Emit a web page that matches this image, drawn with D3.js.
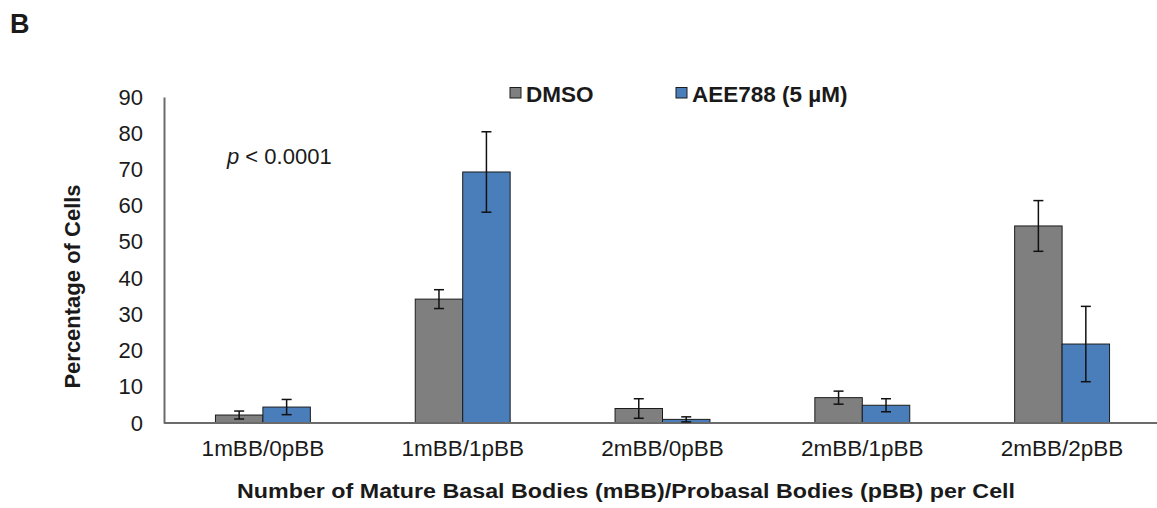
<!DOCTYPE html>
<html>
<head>
<meta charset="utf-8">
<script src="https://cdn.jsdelivr.net/npm/d3@7"></script>
<style>
  html, body { margin: 0; padding: 0; background: #fff; }
  svg { display: block; }
  text { font-family: "Liberation Sans", Arial, sans-serif; fill: #1a1a1a; }
</style>
</head>
<body>
<svg id="chart" width="1157" height="508"></svg>
<script>
const categories = ["1mBB/0pBB", "1mBB/1pBB", "2mBB/0pBB", "2mBB/1pBB", "2mBB/2pBB"];
const seriesNames = ["DMSO", "AEE788 (5 µM)"];
const dmsoValues = [2.2, 34.2, 4.0, 7.0, 54.4];
const dmsoErrors = [1.1, 2.6, 2.7, 1.8, 7.0];
const aeeValues = [4.4, 69.3, 1.0, 4.9, 21.8];
const aeeErrors = [2.1, 11.1, 0.7, 1.8, 10.4];
const yTicks = [0, 10, 20, 30, 40, 50, 60, 70, 80, 90];
const colors = ["#7f7f7f", "#4a7ebb"];

const svg = d3.select("#chart");

const y = d3.scaleLinear().domain([0, 90]).range([423, 97]);
const x = d3.scaleBand().domain(categories).range([163, 1162])
  .paddingInner(0.525).paddingOuter(0.2625);
const xs = d3.scaleBand().domain(seriesNames).range([0, x.bandwidth()]);

const series = [
  { name: seriesNames[0], values: dmsoValues, errors: dmsoErrors, color: colors[0] },
  { name: seriesNames[1], values: aeeValues, errors: aeeErrors, color: colors[1] }
];

// Panel label
svg.append("text").attr("x", 10).attr("y", 33)
  .style("font-size", "27px").style("font-weight", "bold").text("B");

// Y axis
const yAxis = svg.append("g").attr("transform", "translate(164,0)")
  .call(d3.axisLeft(y).tickValues(yTicks).tickSize(0).tickPadding(21));
yAxis.select(".domain").attr("stroke", "#6b6b6b").attr("stroke-width", 2);
yAxis.selectAll("text").style("font-size", "22px")
  .style("font-family", "'Liberation Sans', Arial, sans-serif").attr("fill", "#1a1a1a");

// Bars
series.forEach(s => {
  svg.append("g").selectAll("rect").data(categories).join("rect")
    .attr("x", (c) => x(c) + xs(s.name))
    .attr("y", (c, i) => y(s.values[i]))
    .attr("width", xs.bandwidth())
    .attr("height", (c, i) => y(0) - y(s.values[i]))
    .attr("fill", s.color)
    .attr("stroke", "#1c1c1c").attr("stroke-width", 1);
});

// X axis
const xAxis = svg.append("g").attr("transform", "translate(0,423)")
  .call(d3.axisBottom(x).tickSize(0).tickPadding(17));
xAxis.select(".domain").attr("stroke", "#6b6b6b").attr("stroke-width", 2)
  .attr("d", "M164,0H1157");
xAxis.selectAll("text").style("font-size", "22.5px")
  .style("font-family", "'Liberation Sans', Arial, sans-serif").attr("fill", "#1a1a1a");

// Error bars
series.forEach(s => {
  const g = svg.append("g").attr("stroke", "#111").attr("stroke-width", 1.5);
  categories.forEach((c, i) => {
    const cx = x(c) + xs(s.name) + xs.bandwidth() / 2;
    const hi = y(s.values[i] + s.errors[i]);
    const lo = y(Math.max(0, s.values[i] - s.errors[i]));
    g.append("line").attr("x1", cx).attr("x2", cx).attr("y1", hi).attr("y2", lo);
    g.append("line").attr("x1", cx - 5).attr("x2", cx + 5).attr("y1", hi).attr("y2", hi);
    g.append("line").attr("x1", cx - 5).attr("x2", cx + 5).attr("y1", lo).attr("y2", lo);
  });
});

// Legend
const legendX = [510, 676];
series.forEach((s, i) => {
  svg.append("rect").attr("x", legendX[i]).attr("y", 87.5).attr("width", 11).attr("height", 10.5)
    .attr("fill", s.color).attr("stroke", "#1c1c1c").attr("stroke-width", 1);
  svg.append("text").attr("x", legendX[i] + 16).attr("y", 101.5)
    .style("font-size", "22.5px").style("font-weight", "bold").text(s.name);
});

// p-value annotation
const pText = svg.append("text").attr("x", 227).attr("y", 164).style("font-size", "22px");
pText.append("tspan").style("font-style", "italic").text("p");
pText.append("tspan").text(" < 0.0001");

// Axis titles
svg.append("text").attr("transform", "translate(80,286.5) rotate(-90)")
  .attr("text-anchor", "middle").style("font-size", "22px").style("font-weight", "bold")
  .text("Percentage of Cells");

svg.append("text").attr("x", 237).attr("y", 497.5)
  .attr("textLength", 778).attr("lengthAdjust", "spacingAndGlyphs")
  .style("font-size", "19.5px").style("font-weight", "bold")
  .text("Number of Mature Basal Bodies (mBB)/Probasal Bodies (pBB) per Cell");
</script>
</body>
</html>
